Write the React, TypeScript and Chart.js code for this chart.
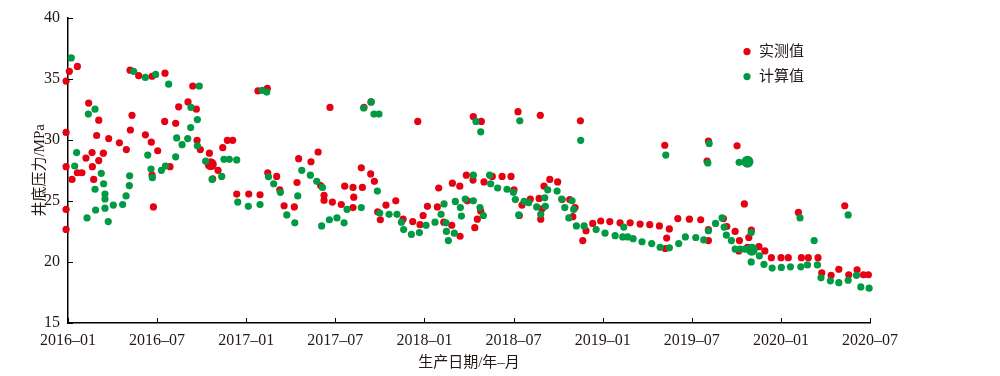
import React, { useEffect, useRef } from "react";
import { Chart, registerables } from "chart.js";

Chart.register(...registerables);

// x = months since 2016-01, y = bottom-hole pressure (MPa)
const xTickLabels = ["2016–01", "2016–07", "2017–01", "2017–07", "2018–01", "2018–07", "2019–01", "2019–07", "2020–01", "2020–07"];

const measuredPoints: [number, number][] = [
  [-0.13, 34.8], [0.09, 35.6], [0.63, 36.0], [-0.13, 30.6], [-0.13, 27.8], [0.27, 26.75], [-0.13, 24.3], [-0.13, 22.66],
  [0.63, 27.3], [0.94, 27.3], [1.21, 28.5], [1.62, 28.95], [2.38, 28.9], [2.07, 28.3], [1.64, 27.8], [1.73, 26.75],
  [1.39, 33.0], [2.07, 31.6], [1.93, 30.35], [2.74, 30.1], [3.46, 29.75], [3.93, 29.2], [4.31, 32.0], [4.2, 30.8],
  [4.18, 35.7], [4.76, 35.25], [5.66, 35.2], [6.53, 35.45], [5.21, 30.4], [5.61, 29.8], [6.04, 29.1], [5.66, 27.1],
  [5.75, 24.5], [6.51, 31.5], [6.87, 27.8], [7.25, 31.35], [7.45, 32.7], [8.08, 33.1], [8.4, 34.4], [8.64, 32.5],
  [8.69, 29.95], [8.91, 29.2], [9.52, 28.9], [9.61, 28.0], [10.1, 27.5], [9.74, 26.8], [10.42, 29.35], [10.73, 29.95],
  [11.09, 29.95], [11.36, 25.55], [12.17, 25.55], [12.93, 25.5], [12.79, 34.0], [13.42, 34.2], [13.45, 27.3],
  [14.05, 27.0], [14.26, 25.9], [14.55, 24.6], [15.24, 24.5], [15.42, 26.5], [15.53, 28.45], [16.36, 28.2], [16.84, 29.0],
  [17.01, 26.25], [17.24, 25.45], [17.24, 25.05], [17.64, 32.65], [17.8, 24.9], [18.4, 24.7], [18.63, 26.2], [19.19, 26.1],
  [19.24, 25.3], [19.19, 24.45], [19.82, 26.1], [19.75, 27.7], [19.93, 32.65], [20.4, 33.1], [20.38, 27.2], [20.63, 26.6],
  [20.85, 24.1], [21.03, 23.45], [21.41, 24.65], [22.07, 25.0], [22.56, 23.5], [23.21, 23.3], [23.55, 31.5], [23.7, 23.05],
  [23.91, 23.8], [24.2, 24.55], [24.87, 24.5], [24.96, 26.05], [25.3, 23.25], [25.84, 23.0], [25.88, 26.45], [26.38, 26.2],
  [26.4, 22.1], [26.82, 27.1], [26.89, 25.0],
  [27.27, 26.7], [27.29, 31.9], [27.39, 22.8], [27.56, 23.5], [27.79, 24.15], [27.83, 31.5], [28.01, 26.55], [28.57, 27.0],
  [29.23, 27.0], [29.83, 27.0], [30.03, 25.9], [30.3, 32.3], [30.39, 23.8], [30.57, 24.65], [31.13, 25.15], [31.72, 25.2],
  [31.8, 32.0], [31.83, 23.5], [31.92, 24.35], [32.05, 26.2], [32.44, 26.75], [32.97, 26.55], [33.27, 25.1], [33.78, 25.1],
  [33.99, 23.7], [34.14, 24.45], [34.5, 31.55], [34.66, 21.75], [34.88, 22.55], [35.33, 23.15], [35.87, 23.35], [36.48, 23.3],
  [37.17, 23.2], [37.85, 23.2], [38.52, 23.1], [39.17, 23.05], [39.82, 22.95], [40.18, 29.55], [40.22, 21.1], [40.31, 21.95],
  [40.49, 22.7],
  [41.06, 23.55], [41.84, 23.5], [42.6, 23.45], [43.03, 28.25], [43.12, 29.9], [43.12, 22.65], [43.12, 21.75], [44.13, 23.55],
  [44.36, 22.9], [44.92, 22.5], [45.05, 29.5], [45.17, 20.9], [45.21, 21.75], [45.54, 24.75], [45.75, 21.2], [45.84, 22.0],
  [46.01, 22.6], [46.52, 21.25], [46.92, 20.9], [47.36, 20.35], [48.01, 20.35], [48.5, 20.35], [49.18, 24.05], [49.38, 20.35],
  [49.85, 20.35], [50.5, 20.35], [50.75, 19.1], [51.38, 18.9], [51.9, 19.4], [52.3, 24.6], [52.57, 18.95], [53.13, 19.35],
  [53.56, 18.95], [53.89, 18.95],
];

const computedPoints: [number, number][] = [
  [0.22, 36.7], [0.58, 28.95], [0.45, 27.85], [1.37, 32.1], [1.82, 32.5], [2.24, 27.25], [2.4, 26.4], [1.82, 25.95],
  [2.49, 25.55], [2.49, 25.15], [2.49, 24.4], [1.86, 24.25], [1.28, 23.6], [2.71, 23.3], [3.05, 24.65], [3.68, 24.7],
  [3.91, 25.4], [4.13, 26.25], [4.15, 27.05], [4.42, 35.6], [5.21, 35.1], [5.9, 35.35], [6.78, 34.55], [5.37, 28.75],
  [5.59, 27.6], [5.68, 26.9], [6.29, 27.5], [6.56, 27.85], [7.25, 28.6], [7.32, 30.15], [7.68, 29.6], [8.06, 30.1],
  [8.26, 31.0], [8.71, 31.65], [8.28, 32.65], [8.84, 34.4], [8.71, 29.5], [9.27, 28.25], [9.7, 26.75], [10.35, 27.0],
  [10.5, 28.4], [10.86, 28.4], [11.36, 28.35], [11.43, 24.9], [12.14, 24.55], [12.93, 24.7], [13.08, 34.05], [13.38, 33.9],
  [13.5, 26.97],
  [13.85, 26.4], [14.3, 25.7], [14.73, 23.85], [15.27, 23.2], [15.47, 25.4], [15.74, 27.5], [16.32, 27.1], [16.75, 26.6],
  [17.13, 26.1], [17.08, 22.95], [17.6, 23.45], [18.11, 23.6], [18.59, 23.2], [18.79, 24.3], [19.75, 24.45], [19.91, 32.6],
  [20.42, 33.1], [20.6, 32.1], [20.94, 32.1], [20.83, 25.8], [20.99, 24.0], [21.62, 23.9], [22.15, 23.9], [22.45, 23.25],
  [22.6, 22.65], [23.12, 22.25], [23.66, 22.4], [24.11, 23.0], [24.71, 23.25], [25.12, 23.9], [25.32, 24.75], [25.45, 23.2],
  [25.48, 22.5], [25.61, 21.75], [26.01, 22.35], [26.08, 24.95], [26.42, 24.45], [26.49, 23.75], [26.75, 25.15],
  [27.29, 27.1], [27.29, 25.0], [27.47, 31.5], [27.74, 24.45], [27.79, 30.65], [27.97, 23.8], [28.39, 27.1], [28.46, 26.4],
  [28.93, 26.05], [29.56, 25.95], [29.99, 25.7], [30.12, 25.1], [30.35, 23.85], [30.42, 31.55], [30.71, 24.95], [31.02, 24.85],
  [31.56, 24.5], [31.83, 23.9], [32.1, 25.25], [32.14, 24.55], [32.3, 25.9], [32.93, 25.8], [33.24, 25.15], [33.45, 24.45],
  [33.72, 23.6], [33.94, 25.0], [34.05, 24.3], [34.23, 22.95], [34.52, 29.95], [34.75, 22.95], [35.56, 22.65], [36.16, 22.35],
  [36.84, 22.15], [37.35, 22.05], [37.42, 22.85], [37.69, 22.05], [38.05, 21.9], [38.65, 21.65], [39.3, 21.5], [39.87, 21.2],
  [40.25, 28.75], [40.49, 21.15],
  [41.12, 21.5], [41.57, 22.05], [42.27, 22.0], [42.81, 21.8], [43.08, 28.1], [43.12, 22.55], [43.17, 29.7], [43.6, 23.15],
  [44.04, 23.6], [44.18, 22.85], [44.33, 22.2], [44.67, 21.75], [44.92, 21.05], [45.19, 28.15], [45.25, 21.05], [45.57, 21.05],
  [45.75, 28.2], [46.0, 22.4], [46.0, 20.0], [46.04, 21.0], [46.55, 20.5], [46.86, 19.8], [47.41, 19.5], [48.03, 19.55],
  [48.64, 19.6], [49.29, 23.6], [49.34, 19.6], [49.79, 19.75], [50.24, 21.75], [50.46, 19.75], [50.7, 18.7], [51.33, 18.45],
  [51.9, 18.3], [52.53, 23.85], [52.53, 18.5], [53.09, 18.9], [53.38, 17.95], [53.94, 17.85],
];

const seriesNames = ["实测值", "计算值"];

const RED = "#e60012";
const GREEN = "#009a44";
const INK = "#231815";
const FONT_FAMILY = '"Liberation Serif", "Noto Sans CJK SC", serif';

// indices of the few enlarged markers in the reference
const bigMeasured = new Set([43]);
const bigComputed = new Set([146, 149]);

const inwardTicks = {
  id: "inwardTicks",
  afterDraw(chart: any) {
    const { ctx, chartArea, scales } = chart;
    ctx.save();
    ctx.strokeStyle = "#000";
    ctx.lineWidth = 1;
    ctx.beginPath();
    scales.x.ticks.forEach((t: any) => {
      const px = Math.round(scales.x.getPixelForValue(t.value)) + 0.5;
      ctx.moveTo(px, chartArea.bottom);
      ctx.lineTo(px, chartArea.bottom - 5);
    });
    scales.y.ticks.forEach((t: any) => {
      const py = Math.round(scales.y.getPixelForValue(t.value)) + 0.5;
      ctx.moveTo(chartArea.left, py);
      ctx.lineTo(chartArea.left + 5, py);
    });
    ctx.stroke();
    ctx.restore();
  },
};

const insideLegend = {
  id: "insideLegend",
  afterDraw(chart: any) {
    const { ctx, chartArea } = chart;
    const x = chartArea.right - 123;
    const y0 = chartArea.top + 34;
    const colors = [RED, GREEN];
    ctx.save();
    ctx.font = `15px ${FONT_FAMILY}`;
    ctx.textBaseline = "middle";
    ctx.textAlign = "left";
    seriesNames.forEach((name, i) => {
      const y = y0 + i * 25;
      ctx.fillStyle = colors[i];
      ctx.beginPath();
      ctx.arc(x, y, 3.6, 0, Math.PI * 2);
      ctx.fill();
      ctx.fillStyle = INK;
      ctx.fillText(name, x + 12, y);
    });
    ctx.restore();
  },
};

export default function App() {
  const canvasRef = useRef<HTMLCanvasElement | null>(null);

  useEffect(() => {
    if (!canvasRef.current) return;
    const chart = new Chart(canvasRef.current, {
      type: "scatter",
      data: {
        datasets: [
          {
            label: seriesNames[0],
            data: measuredPoints.map(([x, y]) => ({ x, y })),
            backgroundColor: RED,
            borderWidth: 0,
            pointRadius: (c: any) => (bigMeasured.has(c.dataIndex) ? 6 : 3.6),
            clip: false as any,
            order: 2,
          },
          {
            label: seriesNames[1],
            data: computedPoints.map(([x, y]) => ({ x, y })),
            backgroundColor: GREEN,
            borderWidth: 0,
            pointRadius: (c: any) => (bigComputed.has(c.dataIndex) ? 6 : 3.6),
            clip: false as any,
            order: 1,
          },
        ],
      },
      options: {
        responsive: false,
        devicePixelRatio: 1,
        animation: false,
        events: [],
        layout: { padding: { left: 27, right: 130, top: 13, bottom: 0 } },
        plugins: {
          legend: { display: false },
          tooltip: { enabled: false },
        },
        scales: {
          x: {
            type: "linear",
            min: 0,
            max: 54,
            afterFit: (s: any) => {
              s.height = 53;
            },
            afterBuildTicks: (s: any) => {
              s.ticks = xTickLabels.map((_, i) => ({ value: i * 6 }));
            },
            ticks: {
              callback: (v: any) => xTickLabels[Math.round(Number(v) / 6)] ?? "",
              color: INK,
              font: { family: FONT_FAMILY, size: 16 },
              padding: 8,
              maxRotation: 0,
              autoSkip: false,
            },
            grid: { display: false, drawTicks: false },
            border: { display: true, color: "#000", width: 1.5 },
            title: {
              display: true,
              text: "生产日期/年–月",
              color: INK,
              font: { family: FONT_FAMILY, size: 15 },
              padding: { top: 0, bottom: 4 },
            },
          },
          y: {
            type: "linear",
            min: 15,
            max: 40,
            afterFit: (s: any) => {
              s.width = 41;
            },
            ticks: {
              stepSize: 5,
              color: INK,
              font: { family: FONT_FAMILY, size: 16 },
              padding: 8,
            },
            grid: { display: false, drawTicks: false },
            border: { display: true, color: "#000", width: 1.5 },
            title: {
              display: true,
              text: "井底压力/MPa",
              color: INK,
              font: { family: FONT_FAMILY, size: 15 },
              padding: { top: 4, bottom: 0 },
            },
          },
        },
      },
      plugins: [inwardTicks, insideLegend],
    });
    return () => chart.destroy();
  }, []);

  return (
    <div style={{ position: "absolute", left: 0, top: 0, width: 1000, height: 376, background: "#fff" }}>
      <canvas ref={canvasRef} width={1000} height={376} style={{ display: "block" }} />
    </div>
  );
}
